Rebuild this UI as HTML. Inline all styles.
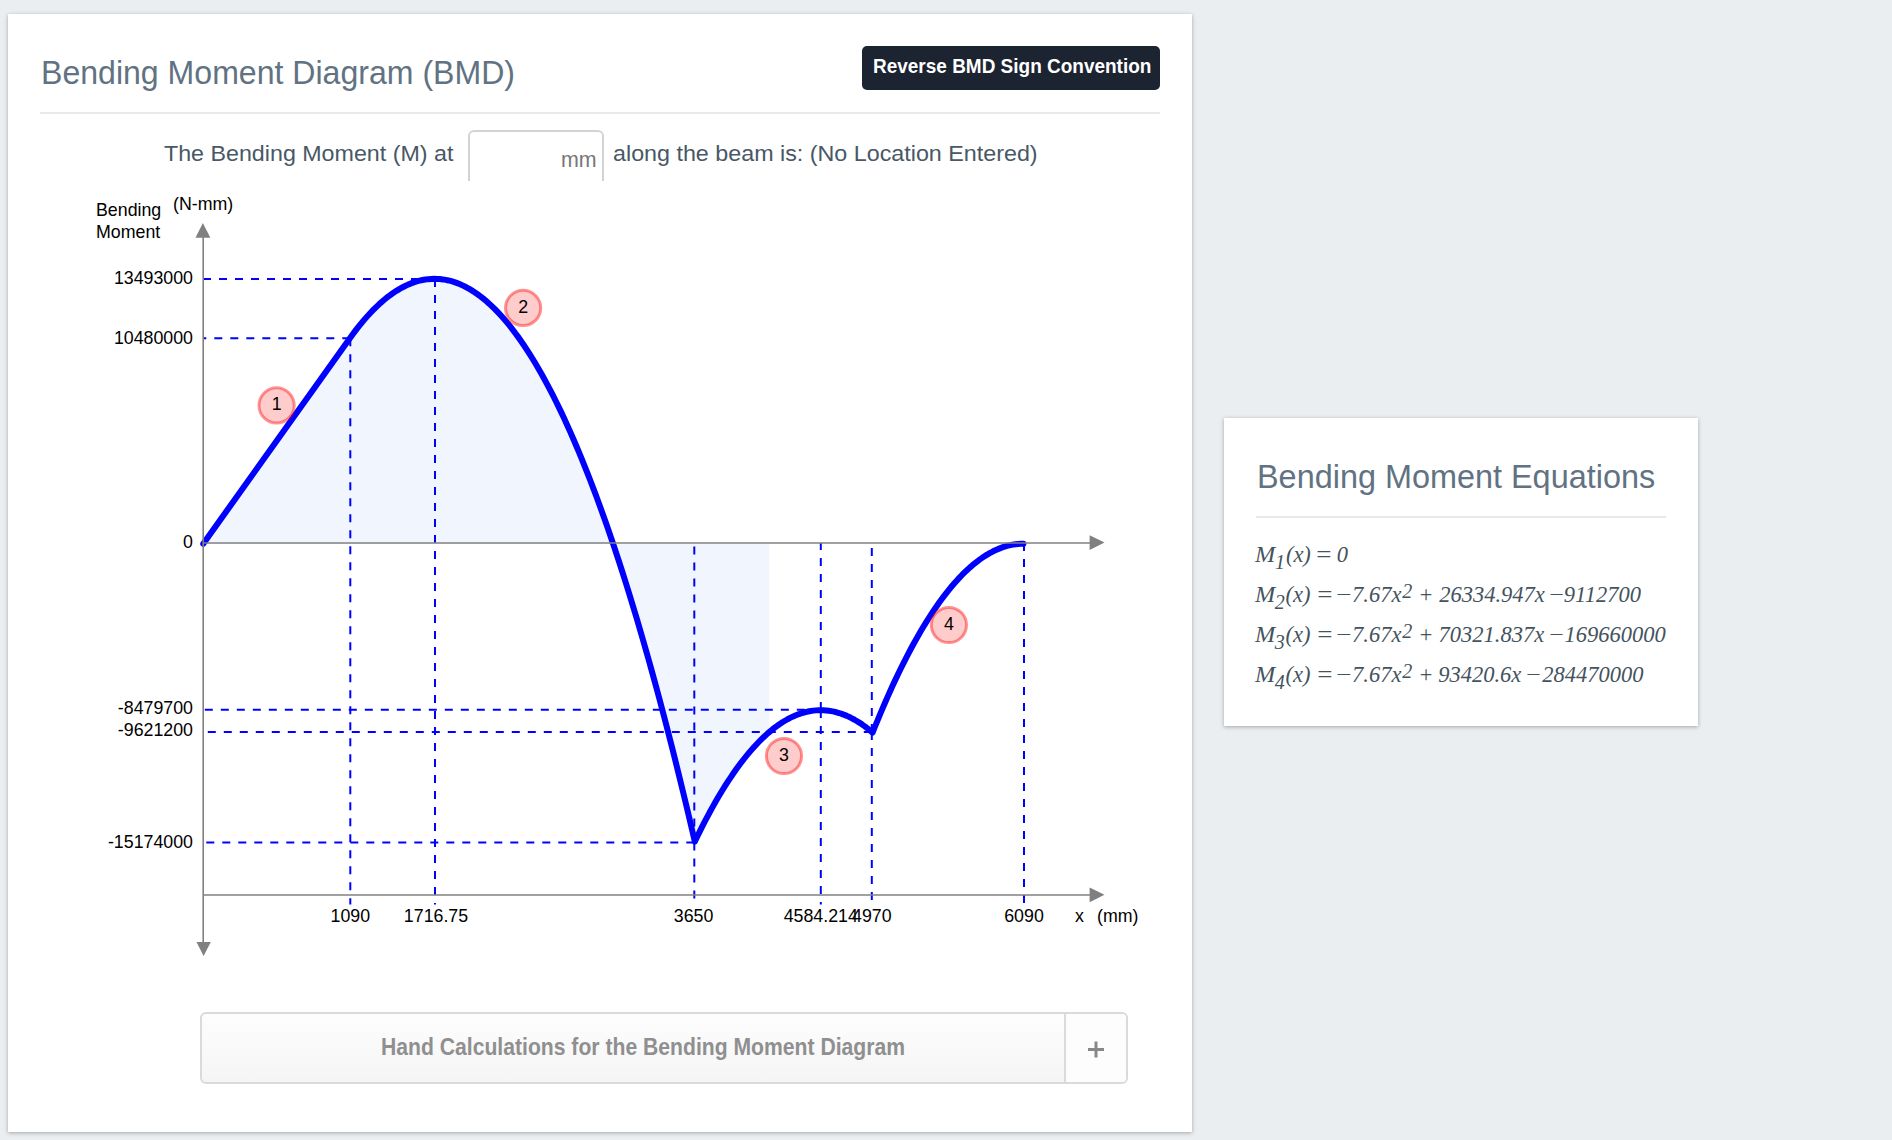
<!DOCTYPE html>
<html><head><meta charset="utf-8">
<style>
html,body{margin:0;padding:0;}
body{width:1892px;height:1140px;background:#eaeef1;position:relative;overflow:hidden;font-family:"Liberation Sans",sans-serif;}
.card{position:absolute;background:#fff;box-shadow:0 1px 4px rgba(0,0,0,0.3);}
.abs{position:absolute;white-space:nowrap;}
.title{color:#617282;font-size:32px;line-height:40px;}
.btn{position:absolute;left:862px;top:46px;width:298px;height:44px;background:#1c2331;border-radius:5px;}
.btntxt{color:#fff;font-weight:bold;font-size:19px;line-height:24px;}
.hr{position:absolute;height:2px;background:#e9e9e9;}
.q{color:#485866;font-size:23px;line-height:28px;}
.inp{position:absolute;left:468px;top:130px;width:132px;height:49px;border:2px solid #d3d3d3;border-bottom:none;border-radius:6px 6px 0 0;}
.mm{color:#777;font-size:19px;}
svg text{font-family:"Liberation Sans",sans-serif;fill:#000;}
.acc{position:absolute;left:200px;top:1012px;width:924px;height:68px;border:2px solid #dadada;border-radius:6px;background:linear-gradient(#fdfdfd,#f5f5f5);overflow:hidden;}
.acc .plus{position:absolute;right:0;top:0;width:60px;height:68px;border-left:2px solid #dadada;background:#fdfdfd;}
.acctxt{color:#8f8f8f;font-weight:bold;font-size:22px;}
.eq{color:#4f5f6b;font-family:"Liberation Serif",serif;font-style:italic;font-size:22px;line-height:28px;}
.ep{position:absolute;white-space:nowrap;color:#44535e;font-family:"Liberation Serif",serif;font-style:italic;line-height:40px;}
</style></head><body>
<div class="card" style="left:8px;top:14px;width:1184px;height:1118px;"></div>
<div class="card" style="left:1224px;top:418px;width:474px;height:308px;"></div>

<div class="abs title" style="left:41px;top:53px;font-size:33.6px;transform:scaleX(0.955);transform-origin:0 0;">Bending Moment Diagram (BMD)</div>
<div class="btn"></div>
<div class="abs btntxt" style="left:873px;top:54px;font-size:20.2px;transform:scaleX(0.94);transform-origin:0 0;">Reverse BMD Sign Convention</div>
<div class="hr" style="left:40px;top:112px;width:1120px;"></div>

<div class="abs q" style="left:164px;top:140px;font-size:22.5px;transform:scaleX(1.033);transform-origin:0 0;">The Bending Moment (M) at</div>
<div class="inp"></div>
<div class="abs mm" style="left:561px;top:147px;font-size:21.7px;transform:scaleX(0.985);transform-origin:0 0;">mm</div>
<div class="abs q" style="left:613px;top:140px;font-size:22.5px;transform:scaleX(1.035);transform-origin:0 0;">along the beam is: (No Location Entered)</div>

<svg style="position:absolute;left:0;top:0;" width="1892" height="1140" viewBox="0 0 1892 1140">
  <path d="M203.28,543.72 L203.28,543.72 L350.06,337.97 L352.96,333.98 L355.86,330.13 L358.75,326.42 L361.65,322.85 L364.55,319.41 L367.45,316.12 L370.34,312.96 L373.24,309.95 L376.14,307.07 L379.03,304.34 L381.93,301.74 L384.83,299.28 L387.72,296.96 L390.62,294.78 L393.52,292.75 L396.42,290.85 L399.31,289.08 L402.21,287.46 L405.11,285.98 L408.00,284.64 L410.90,283.43 L413.80,282.37 L416.70,281.45 L419.59,280.66 L422.49,280.02 L425.39,279.51 L428.28,279.14 L431.18,278.91 L434.08,278.83 L436.97,278.88 L439.87,279.07 L442.77,279.40 L445.67,279.87 L448.56,280.47 L451.46,281.22 L454.36,282.11 L457.25,283.14 L460.15,284.30 L463.05,285.61 L465.94,287.05 L468.84,288.64 L471.74,290.36 L474.64,292.22 L477.53,294.22 L480.43,296.37 L483.33,298.65 L486.22,301.07 L489.12,303.63 L492.02,306.33 L494.92,309.16 L497.81,312.14 L500.71,315.26 L503.61,318.52 L506.50,321.91 L509.40,325.45 L512.30,329.12 L515.19,332.94 L518.09,336.89 L520.99,340.98 L523.89,345.21 L526.78,349.59 L529.68,354.10 L532.58,358.75 L535.47,363.54 L538.37,368.46 L541.27,373.53 L544.16,378.74 L547.06,384.09 L549.96,389.57 L552.86,395.20 L555.75,400.97 L558.65,406.87 L561.55,412.91 L564.44,419.10 L567.34,425.42 L570.24,431.88 L573.13,438.48 L576.03,445.22 L578.93,452.10 L581.83,459.12 L584.72,466.28 L587.62,473.58 L590.52,481.02 L593.41,488.60 L596.31,496.31 L599.21,504.17 L602.11,512.16 L605.00,520.30 L607.90,528.57 L610.80,536.98 L613.69,545.54 L616.59,554.23 L619.49,563.06 L622.38,572.03 L625.28,581.14 L628.18,590.39 L631.08,599.78 L633.97,609.31 L636.87,618.97 L639.77,628.78 L642.66,638.73 L645.56,648.81 L648.46,659.04 L651.35,669.40 L654.25,679.91 L657.15,690.55 L660.05,701.33 L662.94,712.25 L665.84,723.31 L668.74,734.52 L671.63,745.86 L674.53,757.33 L677.43,768.95 L680.32,780.71 L683.22,792.61 L686.12,804.65 L689.02,816.82 L691.91,829.14 L694.81,841.59 L697.39,836.27 L699.96,831.06 L702.54,825.95 L705.12,820.95 L707.69,816.07 L710.27,811.29 L712.84,806.63 L715.42,802.07 L718.00,797.62 L720.57,793.29 L723.15,789.06 L725.72,784.95 L728.30,780.95 L730.88,777.05 L733.45,773.27 L736.03,769.59 L738.61,766.03 L741.18,762.58 L743.76,759.23 L746.33,756.00 L748.91,752.88 L751.49,749.87 L754.06,746.96 L756.64,744.17 L759.22,741.49 L761.79,738.92 L764.37,736.46 L766.94,734.10 L769.20,732.14 L769.20,543.72 Z" fill="#f1f5fd"/>
  <g stroke="#0000ff" stroke-width="2" stroke-dasharray="8 8" fill="none">
    <path d="M435,279 L203,279"/>
    <path d="M350.3,338.2 L203,338.2"/>
    <path d="M820.8,709.8 L203,709.8"/>
    <path d="M871.8,732 L203,732"/>
    <path d="M694.3,842.4 L203,842.4"/>
    <path d="M350.3,338.2 L350.3,904.4"/>
    <path d="M435,279 L435,904.4"/>
    <path d="M694.3,842.4 L694.3,543"/>
    <path d="M694.3,842.4 L694.3,904.4"/>
    <path d="M820.8,710 L820.8,543"/>
    <path d="M820.8,710 L820.8,904.4"/>
    <path d="M871.8,732 L871.8,543"/>
    <path d="M871.8,732 L871.8,904.4"/>
    <path d="M1024,543 L1024,904.4"/>
  </g>
  <path d="M203.28,543.72 L350.06,337.97 L352.96,333.98 L355.86,330.13 L358.75,326.42 L361.65,322.85 L364.55,319.41 L367.45,316.12 L370.34,312.96 L373.24,309.95 L376.14,307.07 L379.03,304.34 L381.93,301.74 L384.83,299.28 L387.72,296.96 L390.62,294.78 L393.52,292.75 L396.42,290.85 L399.31,289.08 L402.21,287.46 L405.11,285.98 L408.00,284.64 L410.90,283.43 L413.80,282.37 L416.70,281.45 L419.59,280.66 L422.49,280.02 L425.39,279.51 L428.28,279.14 L431.18,278.91 L434.08,278.83 L436.97,278.88 L439.87,279.07 L442.77,279.40 L445.67,279.87 L448.56,280.47 L451.46,281.22 L454.36,282.11 L457.25,283.14 L460.15,284.30 L463.05,285.61 L465.94,287.05 L468.84,288.64 L471.74,290.36 L474.64,292.22 L477.53,294.22 L480.43,296.37 L483.33,298.65 L486.22,301.07 L489.12,303.63 L492.02,306.33 L494.92,309.16 L497.81,312.14 L500.71,315.26 L503.61,318.52 L506.50,321.91 L509.40,325.45 L512.30,329.12 L515.19,332.94 L518.09,336.89 L520.99,340.98 L523.89,345.21 L526.78,349.59 L529.68,354.10 L532.58,358.75 L535.47,363.54 L538.37,368.46 L541.27,373.53 L544.16,378.74 L547.06,384.09 L549.96,389.57 L552.86,395.20 L555.75,400.97 L558.65,406.87 L561.55,412.91 L564.44,419.10 L567.34,425.42 L570.24,431.88 L573.13,438.48 L576.03,445.22 L578.93,452.10 L581.83,459.12 L584.72,466.28 L587.62,473.58 L590.52,481.02 L593.41,488.60 L596.31,496.31 L599.21,504.17 L602.11,512.16 L605.00,520.30 L607.90,528.57 L610.80,536.98 L613.69,545.54 L616.59,554.23 L619.49,563.06 L622.38,572.03 L625.28,581.14 L628.18,590.39 L631.08,599.78 L633.97,609.31 L636.87,618.97 L639.77,628.78 L642.66,638.73 L645.56,648.81 L648.46,659.04 L651.35,669.40 L654.25,679.91 L657.15,690.55 L660.05,701.33 L662.94,712.25 L665.84,723.31 L668.74,734.52 L671.63,745.86 L674.53,757.33 L677.43,768.95 L680.32,780.71 L683.22,792.61 L686.12,804.65 L689.02,816.82 L691.91,829.14 L694.81,841.59 L697.39,836.27 L699.96,831.06 L702.54,825.95 L705.12,820.95 L707.69,816.07 L710.27,811.29 L712.84,806.63 L715.42,802.07 L718.00,797.62 L720.57,793.29 L723.15,789.06 L725.72,784.95 L728.30,780.95 L730.88,777.05 L733.45,773.27 L736.03,769.59 L738.61,766.03 L741.18,762.58 L743.76,759.23 L746.33,756.00 L748.91,752.88 L751.49,749.87 L754.06,746.96 L756.64,744.17 L759.22,741.49 L761.79,738.92 L764.37,736.46 L766.94,734.10 L769.52,731.86 L772.10,729.73 L774.67,727.71 L777.25,725.80 L779.83,724.00 L782.40,722.31 L784.98,720.73 L787.55,719.26 L790.13,717.90 L792.71,716.65 L795.28,715.51 L797.86,714.49 L800.44,713.57 L803.01,712.76 L805.59,712.06 L808.16,711.47 L810.74,711.00 L813.32,710.63 L815.89,710.37 L818.47,710.22 L821.05,710.19 L823.62,710.26 L826.20,710.44 L828.77,710.74 L831.35,711.14 L833.93,711.66 L836.50,712.28 L839.08,713.02 L841.66,713.86 L844.23,714.82 L846.81,715.88 L849.38,717.06 L851.96,718.34 L854.54,719.74 L857.11,721.25 L859.69,722.86 L862.27,724.59 L864.84,726.42 L867.42,728.37 L869.99,730.43 L872.57,732.60 L875.13,726.25 L877.68,720.01 L880.24,713.88 L882.80,707.85 L885.35,701.94 L887.91,696.13 L890.46,690.44 L893.02,684.85 L895.58,679.37 L898.13,674.00 L900.69,668.73 L903.25,663.58 L905.80,658.53 L908.36,653.59 L910.92,648.76 L913.47,644.04 L916.03,639.43 L918.58,634.93 L921.14,630.53 L923.70,626.25 L926.25,622.07 L928.81,618.00 L931.37,614.04 L933.92,610.18 L936.48,606.44 L939.04,602.80 L941.59,599.28 L944.15,595.86 L946.71,592.55 L949.26,589.35 L951.82,586.26 L954.37,583.27 L956.93,580.40 L959.49,577.63 L962.04,574.97 L964.60,572.42 L967.16,569.98 L969.71,567.64 L972.27,565.42 L974.83,563.30 L977.38,561.30 L979.94,559.40 L982.49,557.61 L985.05,555.92 L987.61,554.35 L990.16,552.89 L992.72,551.53 L995.28,550.28 L997.83,549.14 L1000.39,548.11 L1002.95,547.19 L1005.50,546.37 L1008.06,545.67 L1010.61,545.07 L1013.17,544.58 L1015.73,544.20 L1018.28,543.93 L1020.84,543.77 L1023.40,543.72" fill="none" stroke="#0000ff" stroke-width="6" stroke-linejoin="round" stroke-linecap="round"/>
  <g stroke="#808080" stroke-width="1.6" fill="none">
    <path d="M203.2,236 L203.2,943"/>
    <path d="M203.2,543 L1091,543"/>
    <path d="M203.2,895 L1091,895"/>
  </g>
  <g fill="#808080">
    <path d="M202.9,223 L210.3,237.8 L195.5,237.8 Z"/>
    <path d="M203.6,956 L210.8,942 L196.5,942 Z"/>
    <path d="M1104.5,542.6 L1089.6,535.2 L1089.6,550 Z"/>
    <path d="M1104.5,894.8 L1089.6,887.4 L1089.6,902.2 Z"/>
  </g>
  <g fill="rgba(255,0,0,0.2)" stroke="rgba(255,0,0,0.42)" stroke-width="3">
    <circle cx="276.6" cy="405.4" r="17.6"/>
    <circle cx="523.1" cy="307.9" r="17.6"/>
    <circle cx="784" cy="756" r="17.6"/>
    <circle cx="948.9" cy="625" r="17.6"/>
  </g>
  <g font-size="17.8" text-anchor="middle">
    <text x="276.6" y="410">1</text>
    <text x="523.1" y="312.5">2</text>
    <text x="784" y="760.5">3</text>
    <text x="948.9" y="630">4</text>
  </g>
  <g font-size="17.8" text-anchor="end">
    <text x="193" y="284">13493000</text>
    <text x="193" y="344">10480000</text>
    <text x="193" y="548">0</text>
    <text x="193" y="714">-8479700</text>
    <text x="193" y="736">-9621200</text>
    <text x="193" y="848">-15174000</text>
  </g>
  <g font-size="17.8" text-anchor="middle">
    <text x="350.3" y="922">1090</text>
    <text x="436" y="922">1716.75</text>
    <text x="693.6" y="922">3650</text>
    <text x="820.8" y="922">4584.214</text>
    <text x="871.8" y="922">4970</text>
    <text x="1024" y="922">6090</text>
  </g>
  <g font-size="17.8">
    <text x="1075" y="922">x</text>
    <text x="1097" y="922">(mm)</text>
    <text x="96" y="216">Bending</text>
    <text x="96" y="238">Moment</text>
    <text x="173" y="210">(N-mm)</text>
  </g>
</svg>

<div class="acc"><div class="plus"></div></div>
<div class="abs acctxt" style="left:381px;top:1034px;font-size:23.2px;transform:scaleX(0.912);transform-origin:0 0;">Hand Calculations for the Bending Moment Diagram</div>
<svg style="position:absolute;left:1087px;top:1041px;" width="18" height="18"><path d="M1,8.5 H17 M9,0.5 V16.5" stroke="#888" stroke-width="3" fill="none"/></svg>

<div class="abs title" style="left:1257px;top:456px;font-size:33.7px;transform:scaleX(0.962);transform-origin:0 0;">Bending Moment Equations</div>
<div class="hr" style="left:1256px;top:516px;width:410px;"></div>
<span class="ep" style="left:1255.3px;top:535.0px;font-size:22.5px;transform:scaleX(1.08);transform-origin:0.0px 0;">M</span>
<span class="ep" style="left:1275.1px;top:542.0px;font-size:20px;">1</span>
<span class="ep" style="left:1285.9px;top:535.0px;font-size:22.5px;">(x)</span>
<span class="ep" style="left:1315.4px;top:535.0px;font-size:22.5px;transform:scaleX(1.2);transform-origin:2.0px 0;">=</span>
<span class="ep" style="left:1336.7px;top:535.0px;font-size:22.5px;">0</span>
<span class="ep" style="left:1255.3px;top:575.0px;font-size:22.5px;transform:scaleX(1.08);transform-origin:0.0px 0;">M</span>
<span class="ep" style="left:1274.8px;top:582.0px;font-size:20px;">2</span>
<span class="ep" style="left:1285.5px;top:575.0px;font-size:22.5px;">(x)</span>
<span class="ep" style="left:1315.7px;top:575.0px;font-size:22.5px;transform:scaleX(1.2);transform-origin:2.0px 0;">=</span>
<span class="ep" style="left:1334.6px;top:575.0px;font-size:22.5px;transform:scaleX(1.2);transform-origin:3.1px 0;">−</span>
<span class="ep" style="left:1352.1px;top:575.0px;font-size:22.5px;">7.67x</span>
<span class="ep" style="left:1402.2px;top:570.9px;font-size:20px;">2</span>
<span class="ep" style="left:1418.2px;top:575.0px;font-size:22.5px;">+</span>
<span class="ep" style="left:1439.2px;top:575.0px;font-size:22.5px;">26334.947x</span>
<span class="ep" style="left:1547.8px;top:575.0px;font-size:22.5px;transform:scaleX(1.15);transform-origin:3.1px 0;">−</span>
<span class="ep" style="left:1563.8px;top:575.0px;font-size:22.5px;">9112700</span>
<span class="ep" style="left:1255.3px;top:615.0px;font-size:22.5px;transform:scaleX(1.08);transform-origin:0.0px 0;">M</span>
<span class="ep" style="left:1274.8px;top:622.0px;font-size:20px;">3</span>
<span class="ep" style="left:1285.5px;top:615.0px;font-size:22.5px;">(x)</span>
<span class="ep" style="left:1315.7px;top:615.0px;font-size:22.5px;transform:scaleX(1.2);transform-origin:2.0px 0;">=</span>
<span class="ep" style="left:1334.6px;top:615.0px;font-size:22.5px;transform:scaleX(1.2);transform-origin:3.1px 0;">−</span>
<span class="ep" style="left:1352.1px;top:615.0px;font-size:22.5px;">7.67x</span>
<span class="ep" style="left:1402.2px;top:610.9px;font-size:20px;">2</span>
<span class="ep" style="left:1418.2px;top:615.0px;font-size:22.5px;">+</span>
<span class="ep" style="left:1438.6px;top:615.0px;font-size:22.5px;">70321.837x</span>
<span class="ep" style="left:1547.8px;top:615.0px;font-size:22.5px;transform:scaleX(1.15);transform-origin:3.1px 0;">−</span>
<span class="ep" style="left:1564.4px;top:615.0px;font-size:22.5px;">169660000</span>
<span class="ep" style="left:1255.3px;top:655.0px;font-size:22.5px;transform:scaleX(1.08);transform-origin:0.0px 0;">M</span>
<span class="ep" style="left:1274.8px;top:662.0px;font-size:20px;">4</span>
<span class="ep" style="left:1285.5px;top:655.0px;font-size:22.5px;">(x)</span>
<span class="ep" style="left:1315.7px;top:655.0px;font-size:22.5px;transform:scaleX(1.2);transform-origin:2.0px 0;">=</span>
<span class="ep" style="left:1334.6px;top:655.0px;font-size:22.5px;transform:scaleX(1.2);transform-origin:3.1px 0;">−</span>
<span class="ep" style="left:1352.1px;top:655.0px;font-size:22.5px;">7.67x</span>
<span class="ep" style="left:1402.2px;top:650.9px;font-size:20px;">2</span>
<span class="ep" style="left:1418.2px;top:655.0px;font-size:22.5px;">+</span>
<span class="ep" style="left:1438.2px;top:655.0px;font-size:22.5px;">93420.6x</span>
<span class="ep" style="left:1525.3px;top:655.0px;font-size:22.5px;transform:scaleX(1.15);transform-origin:3.1px 0;">−</span>
<span class="ep" style="left:1542.3px;top:655.0px;font-size:22.5px;">284470000</span>
</body></html>
